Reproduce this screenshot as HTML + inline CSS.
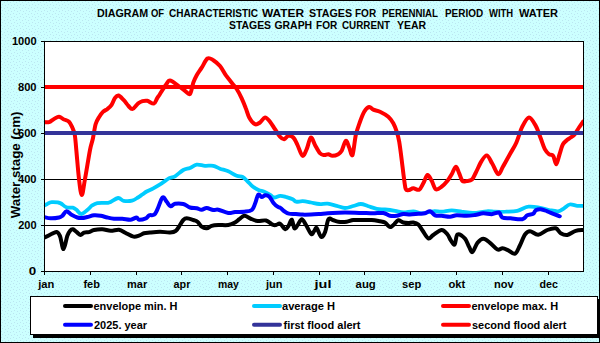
<!DOCTYPE html>
<html><head><meta charset="utf-8"><style>
html,body{margin:0;padding:0;background:#fff;}
svg{display:block;}
text{font-family:"Liberation Sans", sans-serif;font-weight:bold;fill:#000;}
</style></head><body>
<svg width="600" height="343" viewBox="0 0 600 343">
<defs>
<pattern id="dots" width="6" height="6" patternUnits="userSpaceOnUse">
<rect width="6" height="6" fill="#CCFFFF"/>
<rect x="1" y="1" width="1" height="1" fill="#B4DCEC" opacity="0.7"/>
<rect x="4" y="2" width="1" height="1" fill="#B4DCEC" opacity="0.7"/>
<rect x="2" y="4" width="1" height="1" fill="#B4DCEC" opacity="0.7"/>
<rect x="5" y="5" width="1" height="1" fill="#B4DCEC" opacity="0.7"/>
</pattern>
<clipPath id="plot"><rect x="45" y="42" width="538" height="229"/></clipPath>
</defs>
<rect x="0" y="0" width="600" height="343" fill="url(#dots)"/>
<rect x="0.5" y="0.5" width="599" height="342" fill="none" stroke="#000" stroke-width="1"/>

<text x="97.00" y="16.5" font-size="10" textLength="51.14" lengthAdjust="spacingAndGlyphs">DIAGRAM</text>
<text x="151.00" y="16.5" font-size="10" textLength="13.09" lengthAdjust="spacingAndGlyphs">OF</text>
<text x="169.00" y="16.5" font-size="10" textLength="89.05" lengthAdjust="spacingAndGlyphs">CHARACTERISTIC</text>
<text x="262.00" y="16.5" font-size="10" textLength="42.07" lengthAdjust="spacingAndGlyphs">WATER</text>
<text x="309.00" y="16.5" font-size="10" textLength="43.10" lengthAdjust="spacingAndGlyphs">STAGES</text>
<text x="355.00" y="16.5" font-size="10" textLength="21.14" lengthAdjust="spacingAndGlyphs">FOR</text>
<text x="382.00" y="16.5" font-size="10" textLength="56.03" lengthAdjust="spacingAndGlyphs">PERENNIAL</text>
<text x="445.00" y="16.5" font-size="10" textLength="38.07" lengthAdjust="spacingAndGlyphs">PERIOD</text>
<text x="489.00" y="16.5" font-size="10" textLength="24.11" lengthAdjust="spacingAndGlyphs">WITH</text>
<text x="519.00" y="16.5" font-size="10" textLength="39.04" lengthAdjust="spacingAndGlyphs">WATER</text>
<text x="229.00" y="28.7" font-size="10" textLength="42.07" lengthAdjust="spacingAndGlyphs">STAGES</text>
<text x="274.50" y="28.7" font-size="10" textLength="37.63" lengthAdjust="spacingAndGlyphs">GRAPH</text>
<text x="316.00" y="28.7" font-size="10" textLength="21.24" lengthAdjust="spacingAndGlyphs">FOR</text>
<text x="342.00" y="28.7" font-size="10" textLength="48.07" lengthAdjust="spacingAndGlyphs">CURRENT</text>
<text x="397.00" y="28.7" font-size="10" textLength="29.16" lengthAdjust="spacingAndGlyphs">YEAR</text>
<rect x="44.5" y="41.5" width="539" height="230" fill="#fff" stroke="none"/>
<line x1="44" y1="179.5" x2="584" y2="179.5" stroke="#000" stroke-width="1"/>
<line x1="44" y1="225.5" x2="584" y2="225.5" stroke="#000" stroke-width="1"/>
<line x1="41" y1="41.5" x2="44" y2="41.5" stroke="#000" stroke-width="1"/>
<line x1="41" y1="87.5" x2="44" y2="87.5" stroke="#000" stroke-width="1"/>
<line x1="41" y1="133.5" x2="44" y2="133.5" stroke="#000" stroke-width="1"/>
<line x1="41" y1="179.5" x2="44" y2="179.5" stroke="#000" stroke-width="1"/>
<line x1="41" y1="225.5" x2="44" y2="225.5" stroke="#000" stroke-width="1"/>
<line x1="41" y1="271.5" x2="44" y2="271.5" stroke="#000" stroke-width="1"/>
<text x="11.94" y="45.0" font-size="11" textLength="24.63" lengthAdjust="spacingAndGlyphs">1000</text>
<text x="17.98" y="91.0" font-size="11" textLength="18.60" lengthAdjust="spacingAndGlyphs">800</text>
<text x="17.98" y="137.0" font-size="11" textLength="18.60" lengthAdjust="spacingAndGlyphs">600</text>
<text x="17.98" y="183.0" font-size="11" textLength="18.54" lengthAdjust="spacingAndGlyphs">400</text>
<text x="18.18" y="229.0" font-size="11" textLength="18.36" lengthAdjust="spacingAndGlyphs">200</text>
<text x="28.66" y="275.0" font-size="11" textLength="7.44" lengthAdjust="spacingAndGlyphs">0</text>
<line x1="44.5" y1="271" x2="44.5" y2="275" stroke="#000" stroke-width="1"/>
<line x1="90.5" y1="271" x2="90.5" y2="275" stroke="#000" stroke-width="1"/>
<line x1="136.5" y1="271" x2="136.5" y2="275" stroke="#000" stroke-width="1"/>
<line x1="181.5" y1="271" x2="181.5" y2="275" stroke="#000" stroke-width="1"/>
<line x1="227.5" y1="271" x2="227.5" y2="275" stroke="#000" stroke-width="1"/>
<line x1="273.5" y1="271" x2="273.5" y2="275" stroke="#000" stroke-width="1"/>
<line x1="319.5" y1="271" x2="319.5" y2="275" stroke="#000" stroke-width="1"/>
<line x1="364.5" y1="271" x2="364.5" y2="275" stroke="#000" stroke-width="1"/>
<line x1="410.5" y1="271" x2="410.5" y2="275" stroke="#000" stroke-width="1"/>
<line x1="456.5" y1="271" x2="456.5" y2="275" stroke="#000" stroke-width="1"/>
<line x1="502.5" y1="271" x2="502.5" y2="275" stroke="#000" stroke-width="1"/>
<line x1="548.5" y1="271" x2="548.5" y2="275" stroke="#000" stroke-width="1"/>
<text x="38.20" y="287.7" font-size="10" textLength="16.07" lengthAdjust="spacingAndGlyphs">jan</text>
<text x="83.40" y="287.7" font-size="10" textLength="16.50" lengthAdjust="spacingAndGlyphs">feb</text>
<text x="127.00" y="287.7" font-size="10" textLength="20.19" lengthAdjust="spacingAndGlyphs">mar</text>
<text x="173.60" y="287.7" font-size="10" textLength="16.75" lengthAdjust="spacingAndGlyphs">apr</text>
<text x="218.00" y="287.7" font-size="10" textLength="20.83" lengthAdjust="spacingAndGlyphs">may</text>
<text x="266.00" y="287.7" font-size="10" textLength="16.52" lengthAdjust="spacingAndGlyphs">jun</text>
<text x="314.60" y="287.7" font-size="10" textLength="16.84" lengthAdjust="spacingAndGlyphs">jul</text>
<text x="355.60" y="287.7" font-size="10" textLength="20.19" lengthAdjust="spacingAndGlyphs">aug</text>
<text x="402.00" y="287.7" font-size="10" textLength="19.20" lengthAdjust="spacingAndGlyphs">sep</text>
<text x="448.40" y="287.7" font-size="10" textLength="16.81" lengthAdjust="spacingAndGlyphs">okt</text>
<text x="494.00" y="287.7" font-size="10" textLength="19.68" lengthAdjust="spacingAndGlyphs">nov</text>
<text x="539.60" y="287.7" font-size="10" textLength="18.33" lengthAdjust="spacingAndGlyphs">dec</text>
<g clip-path="url(#plot)">
<path d="M44.0,237.7 C44.8,237.3 47.2,236.2 48.7,235.4 C50.2,234.6 51.9,233.7 53.3,233.1 C54.7,232.5 56.0,231.6 57.1,232.1 C58.2,232.6 59.1,234.0 59.9,235.9 C60.7,237.8 61.2,241.1 61.7,243.3 C62.2,245.5 62.6,248.7 63.1,249.0 C63.6,249.3 64.3,247.4 65.0,245.2 C65.7,243.0 66.5,238.3 67.3,235.9 C68.1,233.5 69.2,231.8 70.1,230.7 C71.0,229.6 71.9,229.1 72.9,229.3 C73.9,229.5 75.0,230.8 76.2,231.7 C77.5,232.6 79.1,234.8 80.4,234.9 C81.7,235.1 82.7,233.1 84.1,232.6 C85.5,232.1 87.1,232.5 88.8,232.1 C90.5,231.7 91.8,230.5 94.0,230.0 C96.2,229.5 99.5,229.1 102.3,229.2 C105.1,229.3 107.9,230.7 110.7,230.8 C113.5,230.9 116.5,229.3 119.0,229.7 C121.5,230.1 123.3,231.8 125.7,233.0 C128.1,234.2 131.2,236.2 133.5,236.6 C135.8,237.0 137.8,235.9 139.5,235.4 C141.2,234.9 142.2,233.8 144.0,233.3 C145.8,232.8 147.3,232.8 150.0,232.5 C152.7,232.2 156.7,231.7 160.0,231.7 C163.3,231.7 167.4,232.7 170.0,232.5 C172.6,232.3 174.1,232.1 175.8,230.8 C177.5,229.6 178.8,226.8 180.0,225.0 C181.2,223.2 182.2,221.1 183.3,220.0 C184.4,218.9 185.0,218.3 186.7,218.3 C188.4,218.3 191.5,219.4 193.3,220.0 C195.1,220.6 196.1,220.6 197.5,221.7 C198.9,222.8 200.2,225.6 201.7,226.7 C203.2,227.8 205.0,228.5 206.7,228.3 C208.4,228.2 209.8,226.4 211.7,225.8 C213.6,225.2 215.5,225.1 218.3,225.0 C221.1,224.9 225.5,225.4 228.3,225.0 C231.1,224.6 233.2,223.5 235.0,222.5 C236.8,221.5 237.8,220.3 239.3,219.2 C240.9,218.1 242.4,215.9 244.3,215.8 C246.2,215.7 248.8,217.9 251.0,218.8 C253.2,219.7 255.2,220.7 257.7,221.0 C260.2,221.3 263.5,219.9 266.0,220.5 C268.5,221.1 271.0,223.9 272.7,224.7 C274.4,225.4 274.8,225.2 276.0,225.0 C277.2,224.8 278.7,223.0 280.2,223.7 C281.7,224.4 283.8,228.8 285.2,229.2 C286.6,229.5 287.4,227.4 288.5,225.8 C289.6,224.2 290.8,219.3 291.8,219.7 C292.8,220.1 293.3,227.4 294.3,228.3 C295.3,229.2 296.4,226.5 297.7,225.0 C298.9,223.5 300.4,219.2 301.8,219.2 C303.2,219.2 304.4,222.5 306.0,225.0 C307.6,227.5 309.9,233.1 311.3,234.0 C312.7,234.9 313.6,231.5 314.5,230.5 C315.4,229.5 315.7,227.1 316.8,228.2 C317.9,229.3 319.9,236.4 321.3,237.0 C322.7,237.6 324.0,234.7 325.2,231.7 C326.4,228.7 327.2,221.1 328.5,219.2 C329.8,217.2 331.1,219.6 332.7,220.0 C334.3,220.4 336.0,221.4 338.3,221.7 C340.6,222.0 344.2,222.0 346.7,221.7 C349.2,221.4 350.5,220.3 353.3,220.0 C356.1,219.7 360.2,220.0 363.3,220.0 C366.4,220.0 368.9,219.8 371.7,220.0 C374.5,220.2 377.8,220.9 380.0,221.3 C382.2,221.7 383.6,221.8 385.0,222.5 C386.4,223.2 387.3,225.1 388.3,225.8 C389.3,226.6 389.8,227.3 390.8,227.0 C391.8,226.7 392.9,225.3 394.2,224.2 C395.4,223.1 396.8,220.6 398.3,220.3 C399.8,220.0 401.6,222.1 403.3,222.5 C405.0,222.9 406.6,223.0 408.3,223.0 C410.0,223.0 411.6,222.2 413.3,222.5 C415.0,222.8 416.8,223.2 418.3,224.5 C419.8,225.8 420.8,228.2 422.5,230.5 C424.2,232.8 426.5,237.6 428.3,238.3 C430.1,239.1 431.1,236.4 433.3,235.0 C435.5,233.6 439.3,230.1 441.7,230.0 C444.1,229.9 446.0,232.8 447.5,234.5 C449.0,236.2 449.6,238.6 450.8,240.3 C452.0,242.0 453.6,245.5 454.7,244.5 C455.8,243.5 455.8,235.5 457.5,234.5 C459.2,233.5 463.1,236.6 465.0,238.7 C466.9,240.8 467.9,244.8 469.2,247.0 C470.4,249.2 471.1,252.7 472.5,252.0 C473.9,251.3 475.7,245.0 477.5,242.8 C479.3,240.6 481.2,238.7 483.3,238.7 C485.4,238.7 487.6,241.0 490.0,242.8 C492.4,244.6 495.4,248.6 497.5,249.5 C499.6,250.4 500.7,248.2 502.5,248.3 C504.3,248.4 506.2,249.4 508.3,250.3 C510.4,251.2 513.0,254.5 515.0,253.7 C517.0,252.9 518.3,248.5 520.0,245.3 C521.7,242.1 523.3,236.8 525.0,234.5 C526.7,232.2 527.8,231.2 530.0,231.2 C532.2,231.2 535.3,234.9 538.2,234.7 C541.1,234.5 544.4,231.1 547.3,230.0 C550.2,228.9 553.5,227.8 555.7,228.3 C557.9,228.9 558.8,232.2 560.7,233.3 C562.6,234.4 564.8,235.4 567.3,235.0 C569.8,234.6 573.1,231.6 575.7,230.8 C578.3,230.0 581.8,230.1 583.0,230.0" fill="none" stroke="#000000" stroke-width="4" stroke-linejoin="round" stroke-linecap="round"/>
<path d="M44.0,205.6 C44.5,205.3 46.0,204.6 47.3,204.0 C48.5,203.4 49.7,202.4 51.5,202.2 C53.3,201.9 56.4,202.3 58.0,202.5 C59.6,202.7 59.6,202.7 61.0,203.5 C62.4,204.3 64.4,206.6 66.4,207.3 C68.4,208.0 71.1,207.3 72.8,207.7 C74.5,208.1 75.1,208.8 76.5,209.8 C77.9,210.9 79.4,214.0 81.2,214.0 C83.0,214.0 85.5,211.4 87.3,210.0 C89.1,208.6 90.6,206.5 92.3,205.3 C94.0,204.2 95.3,203.5 97.3,203.1 C99.2,202.7 102.0,202.9 104.0,202.8 C106.0,202.7 106.9,203.3 109.2,202.5 C111.5,201.7 115.7,198.3 118.1,198.0 C120.5,197.7 121.3,200.4 123.6,200.8 C125.9,201.2 129.6,201.2 132.0,200.6 C134.4,200.0 136.3,198.5 138.0,197.5 C139.7,196.5 140.9,195.5 142.3,194.5 C143.8,193.5 144.9,192.5 146.7,191.5 C148.5,190.5 150.8,189.7 153.3,188.3 C155.8,186.9 159.0,185.0 161.7,183.3 C164.3,181.6 167.0,179.4 169.2,178.2 C171.4,177.0 172.7,177.7 175.0,176.3 C177.3,174.9 180.8,171.4 183.3,170.0 C185.8,168.6 187.8,168.9 190.0,168.0 C192.2,167.1 194.2,165.1 196.7,164.7 C199.2,164.3 202.2,165.6 205.0,165.8 C207.8,166.0 210.8,165.3 213.3,165.8 C215.8,166.3 217.5,167.8 220.0,168.7 C222.5,169.6 225.5,170.1 228.3,171.3 C231.1,172.5 234.3,174.9 236.7,175.8 C239.1,176.8 240.9,176.1 242.7,177.0 C244.5,177.9 246.0,179.9 247.7,181.5 C249.4,183.1 250.9,185.1 252.7,186.5 C254.5,187.9 256.6,189.1 258.5,190.0 C260.4,190.9 262.4,190.9 264.3,191.7 C266.2,192.5 268.5,194.0 270.2,195.0 C271.9,196.0 272.6,197.4 274.3,197.5 C276.0,197.6 278.2,195.9 280.2,195.8 C282.1,195.7 283.9,196.4 286.0,197.0 C288.1,197.6 291.0,198.4 292.7,199.2 C294.4,200.0 294.3,201.4 296.0,201.7 C297.7,202.0 300.2,201.1 302.7,201.2 C305.2,201.3 308.2,202.0 311.0,202.5 C313.8,203.0 316.5,203.8 319.3,204.0 C322.1,204.2 324.8,203.4 327.7,203.7 C330.6,204.0 333.8,205.1 336.7,205.8 C339.6,206.5 342.2,208.0 345.0,208.0 C347.8,208.0 350.7,206.7 353.3,206.0 C355.9,205.3 358.3,204.0 360.8,204.0 C363.3,204.0 365.7,205.4 368.3,206.2 C370.9,207.0 373.9,208.2 376.7,208.8 C379.5,209.4 381.9,209.2 385.0,209.5 C388.1,209.8 391.9,210.3 395.0,210.8 C398.1,211.3 400.2,212.4 403.3,212.5 C406.4,212.6 410.2,211.2 413.3,211.3 C416.4,211.4 418.4,213.3 421.7,213.3 C425.0,213.3 430.0,211.6 433.3,211.3 C436.6,211.0 438.6,211.9 441.7,211.7 C444.8,211.5 448.4,210.3 451.7,210.3 C455.0,210.3 458.1,211.2 461.7,211.7 C465.3,212.1 469.1,213.1 473.3,213.0 C477.5,212.9 483.1,211.5 486.7,211.3 C490.3,211.1 491.8,211.6 495.0,211.7 C498.2,211.8 502.0,211.8 505.7,211.7 C509.4,211.5 513.5,211.6 517.3,210.8 C521.0,210.0 524.6,207.2 528.2,206.7 C531.8,206.1 535.5,206.9 539.0,207.5 C542.5,208.1 545.8,209.4 549.0,210.0 C552.2,210.6 555.7,211.6 558.2,211.3 C560.7,211.0 562.1,209.4 564.0,208.3 C565.9,207.2 567.6,204.9 569.8,204.5 C572.0,204.1 575.1,205.6 577.3,205.8 C579.5,206.0 582.0,205.8 583.0,205.8" fill="none" stroke="#00CCFF" stroke-width="3.8" stroke-linejoin="round" stroke-linecap="round"/>
<path d="M44.0,122.0 C44.8,122.0 47.3,122.7 49.0,122.2 C50.7,121.7 52.3,119.9 54.0,119.0 C55.7,118.1 57.3,116.6 59.0,116.7 C60.7,116.8 62.3,118.7 64.0,119.5 C65.7,120.3 67.6,120.4 69.0,121.7 C70.4,123.0 71.3,125.3 72.3,127.5 C73.3,129.7 74.1,131.2 74.8,135.0 C75.5,138.8 75.6,142.7 76.3,150.0 C77.0,157.3 78.1,171.5 79.0,179.0 C79.9,186.5 80.8,195.0 81.8,195.0 C82.8,195.0 83.6,186.5 85.0,179.0 C86.4,171.5 88.7,156.8 90.0,150.0 C91.3,143.2 92.1,142.3 93.0,138.0 C93.9,133.7 94.6,127.7 95.6,124.2 C96.6,120.7 97.7,119.3 99.0,117.2 C100.3,115.1 101.8,113.1 103.2,111.7 C104.6,110.3 106.1,110.1 107.5,108.9 C108.9,107.8 110.3,106.7 111.6,104.8 C112.9,102.9 113.9,99.3 115.1,97.8 C116.3,96.2 117.1,95.1 118.6,95.5 C120.0,95.9 122.1,98.5 123.8,100.2 C125.5,102.0 127.0,104.5 128.5,106.0 C130.0,107.5 131.0,109.3 132.6,108.9 C134.2,108.5 136.2,105.0 137.8,103.7 C139.5,102.4 140.9,101.7 142.5,101.2 C144.1,100.7 145.3,100.4 147.2,100.8 C149.1,101.2 152.2,104.0 153.8,103.6 C155.5,103.2 156.1,100.0 157.1,98.4 C158.1,96.8 158.6,96.2 160.0,94.0 C161.4,91.8 164.1,87.2 165.8,85.0 C167.5,82.8 167.9,80.4 170.0,80.5 C172.1,80.6 175.8,84.1 178.3,85.8 C180.8,87.5 183.1,89.4 185.0,90.8 C186.9,92.2 188.6,95.3 190.0,94.0 C191.4,92.7 192.2,85.8 193.3,82.7 C194.4,79.6 195.3,77.7 196.7,75.2 C198.1,72.7 199.9,70.5 201.7,67.7 C203.5,64.9 205.6,59.8 207.5,58.5 C209.4,57.2 211.2,59.0 213.3,60.2 C215.4,61.5 217.9,63.5 220.0,66.0 C222.1,68.5 223.9,72.4 225.8,75.2 C227.8,78.0 229.9,80.4 231.7,82.7 C233.5,85.0 235.0,86.4 236.7,89.0 C238.4,91.6 240.2,95.1 241.7,98.3 C243.2,101.5 244.6,105.1 245.8,108.3 C247.1,111.5 247.7,114.8 249.2,117.5 C250.7,120.2 253.2,123.4 255.0,124.2 C256.8,125.0 258.3,123.6 260.0,122.5 C261.7,121.4 263.3,117.6 265.0,117.5 C266.7,117.4 268.3,119.8 270.0,121.7 C271.7,123.7 273.3,126.7 275.0,129.2 C276.7,131.7 278.5,135.0 280.0,136.7 C281.5,138.4 282.8,139.3 284.2,139.2 C285.6,139.0 286.8,136.1 288.3,135.8 C289.8,135.5 291.8,136.0 293.3,137.5 C294.8,139.0 296.0,141.9 297.5,145.0 C299.0,148.1 301.0,155.1 302.5,155.8 C304.0,156.5 305.3,152.2 306.7,149.2 C308.1,146.1 309.4,138.2 310.8,137.5 C312.2,136.8 313.5,142.4 315.0,145.0 C316.5,147.6 318.5,151.6 320.0,153.3 C321.5,155.0 322.8,154.8 324.2,155.0 C325.6,155.2 326.9,154.1 328.3,154.2 C329.7,154.3 330.8,155.8 332.5,155.8 C334.2,155.8 336.8,155.0 338.3,154.2 C339.8,153.4 340.4,153.0 341.7,150.8 C342.9,148.6 344.6,141.4 345.8,140.8 C347.1,140.2 348.1,145.1 349.2,147.5 C350.3,149.9 351.4,157.1 352.5,155.0 C353.6,152.9 354.6,140.6 355.8,135.0 C357.1,129.4 358.6,125.6 360.0,121.7 C361.4,117.8 362.7,114.2 364.2,111.7 C365.7,109.2 367.7,107.3 369.2,107.0 C370.7,106.7 371.5,108.9 373.3,109.7 C375.1,110.5 377.5,110.5 380.0,111.7 C382.5,112.9 386.1,114.8 388.3,116.7 C390.5,118.6 391.9,120.8 393.3,123.3 C394.7,125.8 395.7,128.6 396.7,131.7 C397.7,134.8 398.4,137.0 399.2,141.7 C400.0,146.4 400.9,153.6 401.7,160.0 C402.5,166.4 403.5,175.1 404.2,180.0 C404.9,184.9 405.0,187.5 405.8,189.2 C406.6,190.9 407.9,190.2 409.2,190.0 C410.4,189.8 411.6,188.4 413.3,188.3 C415.0,188.2 417.5,190.5 419.2,189.7 C420.9,188.9 421.9,185.8 423.3,183.3 C424.7,180.9 426.1,175.4 427.5,175.0 C428.9,174.6 430.3,178.4 431.7,180.8 C433.1,183.2 434.1,188.2 435.8,189.2 C437.5,190.2 439.8,188.1 441.7,186.7 C443.6,185.3 445.8,182.9 447.5,180.8 C449.2,178.7 450.3,176.5 451.7,174.2 C453.1,171.8 454.6,166.8 455.8,166.7 C457.1,166.5 458.1,170.9 459.2,173.3 C460.3,175.7 461.2,179.7 462.5,181.0 C463.8,182.3 465.1,181.2 466.7,181.0 C468.3,180.8 470.4,181.0 472.0,179.5 C473.6,178.0 474.4,175.2 476.0,172.2 C477.6,169.2 479.6,164.2 481.4,161.4 C483.2,158.6 485.0,155.1 486.8,155.4 C488.6,155.8 490.3,160.4 492.2,163.5 C494.1,166.6 496.4,173.6 498.2,174.2 C500.0,174.8 501.0,170.1 502.9,166.8 C504.8,163.6 507.4,158.7 509.6,154.7 C511.8,150.7 514.2,147.4 516.3,142.7 C518.4,138.0 520.2,130.9 522.3,126.7 C524.4,122.5 526.8,117.7 529.0,117.5 C531.2,117.3 533.8,122.3 535.7,125.8 C537.7,129.3 539.2,134.4 540.7,138.3 C542.2,142.2 543.4,146.5 544.8,149.2 C546.2,151.8 547.6,153.1 549.0,154.2 C550.4,155.3 552.0,154.1 553.2,155.8 C554.4,157.5 555.2,164.5 556.2,164.3 C557.2,164.1 558.4,157.8 559.5,154.5 C560.6,151.2 561.6,146.8 562.8,144.5 C564.0,142.2 565.2,141.7 566.5,140.5 C567.8,139.3 569.3,138.6 570.7,137.5 C572.1,136.4 573.4,135.9 574.8,134.2 C576.2,132.5 577.6,129.6 579.0,127.5 C580.4,125.4 582.3,122.7 583.0,121.7" fill="none" stroke="#FF0000" stroke-width="4" stroke-linejoin="round" stroke-linecap="round"/>
<path d="M44.0,217.0 C45.1,217.2 48.2,218.2 50.7,218.3 C53.2,218.4 57.1,217.9 59.0,217.5 C60.9,217.1 61.0,216.8 62.3,215.8 C63.5,214.8 65.0,211.5 66.5,211.3 C68.0,211.1 69.7,213.7 71.5,214.7 C73.3,215.7 75.5,216.9 77.3,217.5 C79.1,218.1 80.6,218.1 82.3,218.0 C84.0,217.9 85.3,217.4 87.3,217.0 C89.2,216.6 91.8,215.5 94.0,215.3 C96.2,215.1 98.5,215.4 100.7,215.8 C102.9,216.2 105.1,217.0 107.3,217.5 C109.5,218.0 111.5,218.5 114.0,218.7 C116.5,218.9 119.5,218.5 122.3,218.7 C125.1,218.9 128.3,219.9 130.7,219.7 C133.1,219.5 135.1,217.5 136.5,217.5 C137.9,217.5 137.4,219.6 139.0,219.7 C140.6,219.8 144.1,219.0 145.8,218.3 C147.5,217.6 147.8,215.9 149.2,215.3 C150.6,214.7 152.8,215.7 154.2,214.7 C155.6,213.7 156.1,212.1 157.5,209.2 C158.9,206.3 161.0,198.8 162.5,197.5 C164.0,196.2 165.3,200.2 166.7,201.7 C168.0,203.2 169.2,206.0 170.6,206.3 C172.0,206.7 172.9,204.2 175.0,203.8 C177.1,203.4 180.8,203.4 183.3,204.0 C185.8,204.6 187.8,206.8 190.0,207.5 C192.2,208.2 194.8,207.9 196.7,208.3 C198.6,208.7 200.0,209.8 201.7,209.7 C203.4,209.6 204.8,207.9 206.7,208.0 C208.6,208.1 211.4,209.7 213.3,210.0 C215.2,210.3 215.8,209.2 218.3,209.7 C220.8,210.2 225.5,212.6 228.3,213.0 C231.1,213.4 232.3,212.2 235.0,212.0 C237.7,211.8 241.5,212.0 244.3,211.7 C247.1,211.4 250.0,211.4 251.8,210.0 C253.6,208.6 254.1,205.9 255.2,203.3 C256.3,200.8 257.1,195.8 258.2,194.7 C259.3,193.6 260.5,196.9 261.7,197.0 C262.9,197.1 264.0,195.4 265.3,195.3 C266.6,195.2 268.0,195.4 269.4,196.7 C270.8,198.0 272.1,201.2 273.5,202.9 C274.9,204.6 276.8,206.1 278.0,206.9 C279.2,207.8 279.5,207.2 280.6,208.0 C281.7,208.8 283.3,210.6 284.7,211.5 C286.1,212.4 286.9,213.2 288.8,213.6 C290.7,214.0 293.6,213.8 295.9,214.0 C298.2,214.2 300.2,214.5 302.7,214.6 C305.2,214.7 308.2,214.6 311.0,214.5 C313.8,214.4 316.5,214.2 319.3,214.0 C322.1,213.8 324.5,213.4 327.7,213.2 C330.9,213.0 335.4,212.8 338.3,212.7 C341.2,212.6 342.2,212.6 345.0,212.6 C347.8,212.6 351.9,212.7 355.0,212.8 C358.1,212.9 360.2,212.9 363.3,213.0 C366.4,213.1 370.0,213.3 373.3,213.3 C376.6,213.3 380.5,212.6 383.3,213.0 C386.1,213.4 387.8,215.3 390.0,215.8 C392.2,216.3 394.5,216.1 396.7,215.8 C398.9,215.5 401.1,214.2 403.3,214.0 C405.5,213.8 407.5,214.5 410.0,214.5 C412.5,214.5 415.8,214.0 418.3,213.8 C420.8,213.6 423.1,213.7 425.0,213.3 C426.9,212.9 428.3,210.9 430.0,211.2 C431.7,211.5 433.1,214.5 435.0,215.3 C436.9,216.1 439.2,215.6 441.7,215.8 C444.2,216.0 447.5,216.8 450.0,216.7 C452.5,216.6 453.9,215.5 456.7,215.3 C459.5,215.2 463.6,215.9 466.7,215.8 C469.8,215.8 472.2,215.4 475.0,215.0 C477.8,214.6 480.5,213.4 483.3,213.3 C486.1,213.2 489.1,214.3 491.7,214.2 C494.3,214.1 497.2,211.9 499.0,212.5 C500.8,213.1 500.4,216.5 502.3,217.5 C504.2,218.5 507.4,218.0 510.7,218.3 C514.0,218.6 519.5,219.7 522.3,219.2 C525.1,218.7 525.5,216.2 527.3,215.3 C529.1,214.4 531.8,214.5 533.2,213.7 C534.6,212.9 534.5,211.1 535.7,210.3 C537.0,209.6 538.8,209.0 540.7,209.2 C542.6,209.4 545.1,210.5 547.3,211.3 C549.5,212.1 551.9,213.4 554.0,214.2 C556.1,215.0 558.8,216.0 559.8,216.3" fill="none" stroke="#0000FF" stroke-width="4" stroke-linejoin="round" stroke-linecap="round"/>
</g>
<line x1="44" y1="133" x2="584" y2="133" stroke="#333399" stroke-width="4"/>
<line x1="44" y1="87" x2="584" y2="87" stroke="#FF0000" stroke-width="4"/>
<rect x="44.5" y="41.5" width="539" height="230" fill="none" stroke="#000" stroke-width="1"/>
<text transform="translate(19.5,218.2) rotate(-90)" x="0" y="0" font-size="12.5" textLength="106.6" lengthAdjust="spacingAndGlyphs">Water stage (cm)</text>
<rect x="33" y="299" width="567" height="39" fill="#000"/>
<rect x="30.5" y="296.5" width="567" height="38" fill="#fff" stroke="#000" stroke-width="1"/>
<line x1="65" y1="306.0" x2="91" y2="306.0" stroke="#000000" stroke-width="4" stroke-linecap="round"/>
<text x="93.50" y="310.3" font-size="10.5" textLength="84.05" lengthAdjust="spacingAndGlyphs">envelope min. H</text>
<line x1="254" y1="306.0" x2="280" y2="306.0" stroke="#00CCFF" stroke-width="4" stroke-linecap="round"/>
<text x="282.00" y="310.3" font-size="10.5" textLength="53.09" lengthAdjust="spacingAndGlyphs">average H</text>
<line x1="443" y1="306.0" x2="469" y2="306.0" stroke="#FF0000" stroke-width="4" stroke-linecap="round"/>
<text x="471.50" y="310.3" font-size="10.5" textLength="86.57" lengthAdjust="spacingAndGlyphs">envelope max. H</text>
<line x1="65" y1="324.7" x2="91" y2="324.7" stroke="#0000FF" stroke-width="4" stroke-linecap="round"/>
<text x="94.00" y="329.0" font-size="10.5" textLength="53.08" lengthAdjust="spacingAndGlyphs">2025. year</text>
<line x1="254" y1="324.7" x2="280" y2="324.7" stroke="#333399" stroke-width="4" stroke-linecap="round"/>
<text x="283.50" y="329.0" font-size="10.5" textLength="77.01" lengthAdjust="spacingAndGlyphs">first flood alert</text>
<line x1="443" y1="324.7" x2="469" y2="324.7" stroke="#FF0000" stroke-width="4" stroke-linecap="round"/>
<text x="472.00" y="329.0" font-size="10.5" textLength="94.52" lengthAdjust="spacingAndGlyphs">second flood alert</text>
</svg></body></html>
